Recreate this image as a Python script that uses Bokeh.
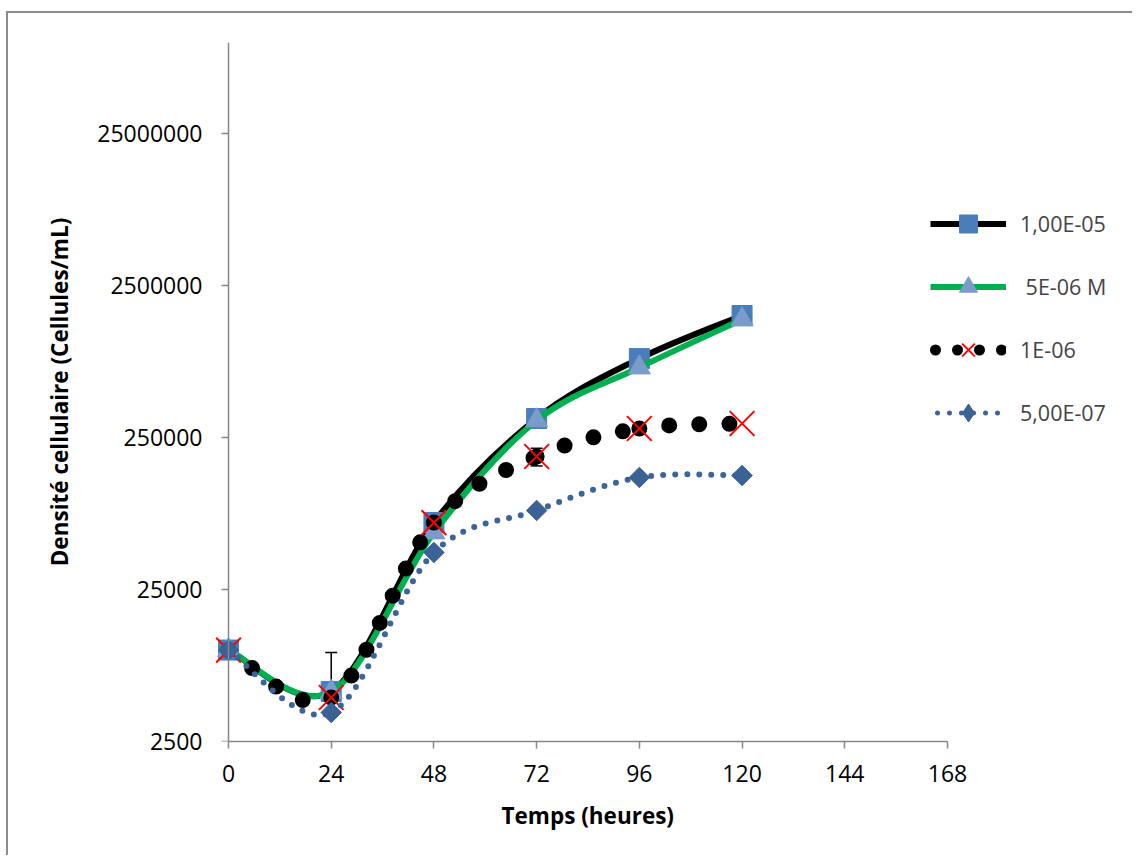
import numpy as np
from bokeh.plotting import figure
from bokeh.models import (FixedTicker, PrintfTickFormatter, Legend, LegendItem,
                          Whisker, TeeHead, ColumnDataSource, Title, LogAxis)
from bokeh.embed import file_html
from bokeh.resources import INLINE

# ---------------- data ----------------
hours = [0, 24, 48, 72, 96, 120]
labels = ["1,00E-05", " 5E-06 M", "1E-06", "5,00E-07"]
s1 = [10000, 5340, 69100, 334500, 830000, 1594000]
s2 = [10000, 5300, 59400, 324500, 724600, 1500000]
s3 = [10000, 4870, 69100, 188000, 287500, 310000]
s4 = [10000, 3880, 43900, 83000, 136800, 141000]
err1_hour = [24]
err1_mean = [5340]
err1_plus = [4300]
err3_hour = [72]
err3_mean = [188000]
err3_pm = [25000]
x_ticks = [0, 24, 48, 72, 96, 120, 144, 168]
y_ticks = [2500, 25000, 250000, 2500000, 25000000]
x_axis_max = 168
x_title = "Temps (heures)"
y_title = "Densité cellulaire (Cellules/mL)"

FONT = "Open Sans"
AXIS_COL = "#868686"

AXIS_W = 719           # pixel length of the drawn x axis (0..168)
PAD_L = 18             # room left of the y axis so markers at t=0 are not cut
EXTRA_R = 171          # room right of the x axis end for the legend
FRAME_W = PAD_L + AXIS_W + EXTRA_R
PX_PER_H = AXIS_W / x_axis_max


def smooth(xs, ys):
    """Excel-like smoothed curve: cubic Bezier control points computed in (x, log10 y)."""
    xs = np.asarray(xs, dtype=float)
    ly = np.log10(np.asarray(ys, dtype=float))
    n = len(xs)
    d = dict(x0=[], y0=[], x1=[], y1=[], cx0=[], cy0=[], cx1=[], cy1=[])
    for i in range(n - 1):
        pm = max(i - 1, 0)
        pp = min(i + 2, n - 1)
        d["x0"].append(xs[i]); d["y0"].append(10 ** ly[i])
        d["x1"].append(xs[i + 1]); d["y1"].append(10 ** ly[i + 1])
        d["cx0"].append(xs[i] + (xs[i + 1] - xs[pm]) / 6)
        d["cy0"].append(10 ** (ly[i] + (ly[i + 1] - ly[pm]) / 6))
        d["cx1"].append(xs[i + 1] - (xs[pp] - xs[i]) / 6)
        d["cy1"].append(10 ** (ly[i + 1] - (ly[pp] - ly[i]) / 6))
    return ColumnDataSource(d)


p = figure(width=1126, height=844,
           x_range=(-PAD_L / PX_PER_H, (AXIS_W + EXTRA_R) / PX_PER_H), y_range=(2500, 1e8),
           y_axis_type="log", output_backend="svg", toolbar_location=None,
           min_border_left=220 - PAD_L, min_border_right=1126 - (220 - PAD_L) - FRAME_W,
           min_border_top=29, min_border_bottom=844 - 29 - 699)
p.styles = {"margin-top": "11px", "margin-left": "6px",
            "border-top": "2px solid #8c8c8c", "border-left": "2px solid #8c8c8c"}
p.xgrid.visible = False
p.ygrid.visible = False
p.outline_line_color = None

bz = dict(x0="x0", y0="y0", x1="x1", y1="y1", cx0="cx0", cy0="cy0", cx1="cx1", cy1="cy1")

# series 1
r1l = p.bezier(source=smooth(hours, s1), line_color="black", line_width=6, **bz)
r1m = p.scatter(hours, s1, marker="square", size=20, fill_color="#4A7EBB", line_color="#4A7EBB")
# series 2
r2l = p.bezier(source=smooth(hours, s2), line_color="#00B050", line_width=6, **bz)
r2m = p.scatter(hours, s2, marker="triangle", size=22, fill_color="#7B9BCB", line_color="#7B9BCB")
# series 3
r3l = p.bezier(source=smooth(hours, s3), line_color="black", line_width=16, line_cap="round",
               line_dash="0 30", **bz)
r3m = p.scatter(hours, s3, marker="x", size=35, line_color="#FF0000", line_width=2)
# series 4
r4l = p.bezier(source=smooth(hours, s4), line_color="#3D6499", line_width=6, line_cap="round",
               line_dash="0 12", **bz)
r4m = p.scatter(hours, s4, marker="square", angle=np.pi / 4, size=14.5,
                fill_color="#3B6294", line_color="#3B6294")

# hidden twins of series 3/4, used only to draw their legend keys
l3 = p.line(hours, s3, line_color="black", line_width=11, line_cap="round",
            line_dash="0 22", line_dash_offset=17, visible=False)
l4 = p.line(hours, s4, line_color="#3D6499", line_width=5, line_cap="round",
            line_dash="0 12", line_dash_offset=5, visible=False)
l4m = p.scatter(hours, s4, marker="diamond", size=20, fill_color="#3B6294",
                line_color="#3B6294", visible=False)

# error bars
e1 = ColumnDataSource(dict(x=err1_hour, lower=err1_mean,
                           upper=[m + e for m, e in zip(err1_mean, err1_plus)]))
p.add_layout(Whisker(source=e1, base="x", lower="lower", upper="upper", dimension="height",
                     line_color="black", line_width=1.5, lower_head=None,
                     upper_head=TeeHead(size=12, line_color="black", line_width=1.5)))
e3 = ColumnDataSource(dict(x=err3_hour, lower=[m - e for m, e in zip(err3_mean, err3_pm)],
                           upper=[m + e for m, e in zip(err3_mean, err3_pm)]))
p.add_layout(Whisker(source=e3, base="x", lower="lower", upper="upper", dimension="height",
                     line_color="black", line_width=1.5,
                     lower_head=TeeHead(size=12, line_color="black", line_width=1.5),
                     upper_head=TeeHead(size=12, line_color="black", line_width=1.5)))

# ---- x axis
xa = p.xaxis[0]
xa.ticker = FixedTicker(ticks=x_ticks, minor_ticks=[])
xa.bounds = (0, x_axis_max)

# ---- y axis: labels + title (frame edge), line + ticks drawn at t = 0
ya = p.yaxis[0]
ya.ticker = FixedTicker(ticks=y_ticks, minor_ticks=[])
ya.formatter = PrintfTickFormatter(format="%d")
ya.axis_line_color = None
ya.major_tick_line_color = None
ya.major_tick_in = 0
ya.major_tick_out = 0
ya.minor_tick_line_color = None
ya.major_label_standoff = 8
ya.axis_label = y_title
ya.axis_label_standoff = 19

yline = LogAxis(ticker=FixedTicker(ticks=y_ticks, minor_ticks=[]), fixed_location=0,
                formatter=PrintfTickFormatter(format="%d"),
                major_label_text_color=None)
p.add_layout(yline, "left")

for ax in (xa, yline):
    ax.axis_line_color = AXIS_COL
    ax.axis_line_width = 1.5
    ax.major_tick_line_color = AXIS_COL
    ax.major_tick_line_width = 1.5
    ax.major_tick_in = 0
    ax.major_tick_out = 7
    ax.minor_tick_line_color = None
for ax in (xa, ya):
    ax.major_label_text_font = FONT
    ax.major_label_text_font_size = "23px"
    ax.major_label_text_color = "black"
    ax.axis_label_text_font = FONT
    ax.axis_label_text_font_size = "22.5px"
    ax.axis_label_text_font_style = "bold"
    ax.axis_label_text_color = "black"
xa.major_label_standoff = 16

# x-axis title, centred under the drawn axis (0..168)
p.add_layout(Title(text=x_title, align="left", offset=273 + PAD_L, standoff=27,
                   text_font=FONT, text_font_size="22.5px", text_font_style="bold",
                   text_color="black"), "below")

legend = Legend(items=[
    LegendItem(label=labels[0], renderers=[r1l, r1m]),
    LegendItem(label=labels[1], renderers=[r2l, r2m]),
    LegendItem(label=labels[2], renderers=[l3, r3m]),
    LegendItem(label=labels[3], renderers=[l4, l4m]),
], location=(702 + PAD_L, 306), glyph_width=76, glyph_height=45, label_height=45, spacing=18,
    padding=0, margin=0, border_line_color=None, background_fill_alpha=0,
    inactive_fill_alpha=0,
    label_text_font=FONT, label_text_font_size="21.5px", label_standoff=14)
p.add_layout(legend)

open("out.html", "w").write(file_html(p, INLINE))
